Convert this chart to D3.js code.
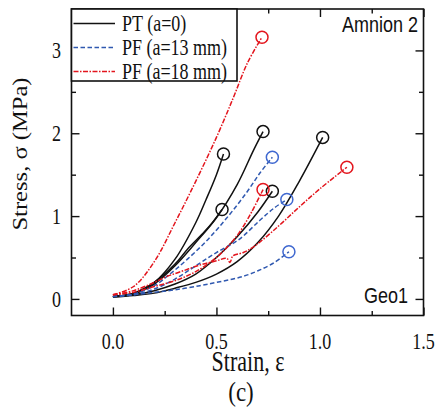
<!DOCTYPE html>
<html>
<head>
<meta charset="utf-8">
<script src="https://cdn.jsdelivr.net/npm/d3@7"></script>
<style>
  body { margin: 0; background: #fff; }
  svg { display: block; }
</style>
</head>
<body>
<svg id="chart" width="442" height="411"></svg>
<script>
// strain / stress pairs
let pt1 = [[0,0.03],[0.1,0.07],[0.2,0.2],[0.3,0.48],[0.4,0.92],[0.45,1.2],[0.5,1.5],[0.534,1.75]];
let pt2 = [[0,0.03],[0.1,0.07],[0.2,0.2],[0.3,0.42],[0.36,0.6],[0.43,0.78],[0.48,0.92],[0.527,1.08]];
let pt3 = [[0,0.03],[0.1,0.06],[0.2,0.18],[0.3,0.4],[0.4,0.68],[0.5,0.98],[0.6,1.38],[0.68,1.8],[0.725,2.02]];
let pt4 = [[0,0.03],[0.1,0.05],[0.2,0.1],[0.3,0.18],[0.4,0.3],[0.5,0.5],[0.6,0.75],[0.7,1.05],[0.77,1.3]];
let pt5 = [[0,0.02],[0.1,0.04],[0.2,0.07],[0.3,0.13],[0.4,0.2],[0.5,0.3],[0.6,0.45],[0.7,0.68],[0.8,1.0],[0.9,1.42],[1.013,1.95]];

let pf13a = [[0,0.03],[0.1,0.06],[0.2,0.16],[0.28,0.31],[0.36,0.48],[0.44,0.67],[0.51,0.86],[0.58,1.07],[0.65,1.3],[0.71,1.52],[0.77,1.71]];
let pf13b = [[0,0.03],[0.1,0.05],[0.2,0.12],[0.3,0.24],[0.4,0.4],[0.5,0.56],[0.61,0.72],[0.71,0.95],[0.78,1.1],[0.84,1.2]];
let pf13c = [[0,0.03],[0.1,0.05],[0.2,0.08],[0.3,0.11],[0.42,0.16],[0.5,0.2],[0.58,0.24],[0.65,0.29],[0.71,0.35],[0.78,0.44],[0.85,0.57]];

let pf18a = [[0,0.05],[0.1,0.15],[0.2,0.45],[0.3,0.92],[0.4,1.42],[0.5,1.95],[0.58,2.42],[0.65,2.85],[0.72,3.16]];
let pf18b = [[0,0.05],[0.1,0.08],[0.2,0.15],[0.3,0.22],[0.4,0.33],[0.5,0.5],[0.55,0.62],[0.61,0.8],[0.67,1.05],[0.725,1.32]];
let pf18c = [[0,0.05],[0.1,0.1],[0.2,0.2],[0.26,0.27],[0.34,0.34],[0.42,0.41],[0.5,0.46],[0.55,0.49],[0.565,0.44],[0.58,0.52],[0.63,0.56],[0.68,0.63],[0.8,0.88],[0.9,1.11],[1.0,1.33],[1.13,1.59]];

let xMajor = [0, 0.5, 1.0, 1.5];
let xMinor = [0.25, 0.75, 1.25];
let yMajor = [0, 1, 2, 3];
let yMinor = [0.5, 1.5, 2.5];
let xLabels = ["0.0", "0.5", "1.0", "1.5"];
let yLabels = ["0", "1", "2", "3"];

let legendNames = ["PT (a=0)", "PF (a=13 mm)", "PF (a=18 mm)"];

let serif = "'Liberation Serif', 'Times New Roman', serif";
let sans = "'Liberation Sans', Arial, sans-serif";
let stretch = 1.3;  // the figure is taller than it is wide

let svg = d3.select("#chart");

let x = d3.scaleLinear().domain([-0.2, 1.5]).range([71.5, 423.5]);
let y = d3.scaleLinear().domain([-0.2, 3.5]).range([315.5, 9]);

let styles = [
    {color: "#111", dash: null, circle: "#111"},
    {color: "#2f58b0", dash: "4.5,2.5", circle: "#3f68d0"},
    {color: "#e3151d", dash: "5,1.5,1.5,1.5", circle: "#e3151d"}
];

let groups = [
    {s: 0, curves: [pt1, pt2, pt3, pt4, pt5]},
    {s: 1, curves: [pf13a, pf13b, pf13c]},
    {s: 2, curves: [pf18a, pf18b, pf18c]}
];

let line = d3.line()
    .x(function(d) { return x(d[0]); })
    .y(function(d) { return y(d[1]); })
    .curve(d3.curveCatmullRom.alpha(0.5));

// curves with open circles at failure
groups.forEach(function(g) {
    let st = styles[g.s];
    svg.append("g").selectAll("path")
        .data(g.curves)
        .join("path")
        .attr("d", line)
        .attr("fill", "none")
        .attr("stroke", st.color)
        .attr("stroke-width", 1.5)
        .attr("stroke-dasharray", st.dash);
    svg.append("g").selectAll("circle")
        .data(g.curves)
        .join("circle")
        .attr("cx", function(d) { return x(d[d.length - 1][0]); })
        .attr("cy", function(d) { return y(d[d.length - 1][1]); })
        .attr("r", 6)
        .attr("fill", "none")
        .attr("stroke", st.circle)
        .attr("stroke-width", 1.5);
});

// inward ticks on all four sides
function ticks(axis, vals, size, transform) {
    let g = svg.append("g")
        .attr("transform", transform)
        .call(axis.tickValues(vals).tickSize(-size).tickFormat(""));
    g.select(".domain").remove();
    g.selectAll("line").attr("stroke", "#111").attr("stroke-width", 1.4);
}
ticks(d3.axisBottom(x), xMajor, 8, `translate(0, ${y.range()[0]})`);
ticks(d3.axisBottom(x), xMinor, 4.5, `translate(0, ${y.range()[0]})`);
ticks(d3.axisTop(x), xMajor, 8, `translate(0, ${y.range()[1]})`);
ticks(d3.axisTop(x), xMinor, 4.5, `translate(0, ${y.range()[1]})`);
ticks(d3.axisLeft(y), yMajor, 8, `translate(${x.range()[0]}, 0)`);
ticks(d3.axisLeft(y), yMinor, 4.5, `translate(${x.range()[0]}, 0)`);
ticks(d3.axisRight(y), yMajor, 8, `translate(${x.range()[1]}, 0)`);
ticks(d3.axisRight(y), yMinor, 4.5, `translate(${x.range()[1]}, 0)`);

// frame
svg.append("rect")
    .attr("x", x.range()[0])
    .attr("y", y.range()[1])
    .attr("width", x.range()[1] - x.range()[0])
    .attr("height", y.range()[0] - y.range()[1])
    .attr("fill", "none")
    .attr("stroke", "#111")
    .attr("stroke-width", 1.6);

function label(px, py, txt, size, family, anchor, sx, sy, rot) {
    return svg.append("text")
        .attr("transform", `translate(${px}, ${py}) rotate(${rot || 0}) scale(${sx}, ${sy})`)
        .attr("text-anchor", anchor)
        .style("font-family", family)
        .style("font-size", size + "px")
        .attr("fill", "#111")
        .text(txt);
}

xMajor.forEach(function(v, i) {
    label(x(v), 349, xLabels[i], 18, serif, "middle", 1, stretch);
});
yMajor.forEach(function(v, i) {
    label(61, y(v) + 8, yLabels[i], 18, serif, "end", 1, stretch);
});

label(248, 371, "Strain, \u03b5", 22, serif, "middle", 1, stretch);
label(27, 154, "Stress, \u03c3 (MPa)", 21, serif, "middle", 1.17, 1, -90);
label(241, 401, "(c)", 23, serif, "middle", 1, 1.2);

label(418, 32, "Amnion 2", 18, sans, "end", 1, 1.25);
label(408, 303, "Geo1", 18, sans, "end", 1, 1.25);

// legend box
let lx0 = x.range()[0], ly0 = y.range()[1];
svg.append("rect")
    .attr("x", lx0)
    .attr("y", ly0)
    .attr("width", 237 - lx0)
    .attr("height", 81 - ly0)
    .attr("fill", "#fff")
    .attr("stroke", "#111")
    .attr("stroke-width", 1.6);

legendNames.forEach(function(name, i) {
    let ly = 23.5 + i * 24;
    let st = styles[i];
    svg.append("line")
        .attr("x1", lx0 + 2)
        .attr("x2", 115)
        .attr("y1", ly)
        .attr("y2", ly)
        .attr("stroke", st.color)
        .attr("stroke-width", 1.5)
        .attr("stroke-dasharray", st.dash);
    label(122, ly + 7, name, 18, serif, "start", 1, stretch);
});
</script>
</body>
</html>
